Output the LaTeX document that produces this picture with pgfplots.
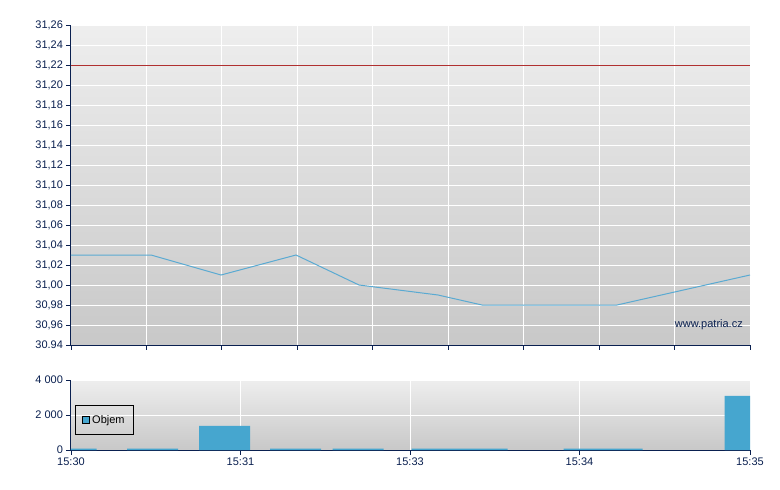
\documentclass[border=0pt]{standalone}
\usepackage{pgfplots}
\pgfplotsset{compat=1.18}
\usepackage{fontspec}
\setmainfont{Liberation Sans}
\definecolor{navy}{HTML}{0A2050}
\definecolor{linec}{HTML}{5AAAD2}
\definecolor{barc}{HTML}{46A6CF}
\definecolor{refred}{HTML}{B03030}
\definecolor{bgtop}{HTML}{EEEEEE}
\definecolor{bgbot}{HTML}{C8C8C8}
\pgfplotsset{
  mystyle/.style={
    scale only axis,
    axis lines*=left,
    axis line style={navy, line width=1pt},
    tick align=outside,
    major tick length=4.5pt,
    tick style={navy, line width=0.9pt},
    grid=major,
    grid style={white, line width=1pt},
    axis background/.style={top color=bgtop, bottom color=bgbot},
    tick label style={font=\fontsize{11}{13}\selectfont, text=navy},
    /pgf/number format/assume math mode=true,
  }
}
\begin{document}
\begin{tikzpicture}[x=1pt,y=1pt]
\path[use as bounding box, fill=white] (0,0) rectangle (780,-490);
\begin{axis}[
  mystyle,
  at={(71pt,-345pt)}, anchor=south west,
  width=679pt, height=320pt,
  xmin=71, xmax=750, ymin=30.94, ymax=31.26,
  xtick={71,146.4,221.9,297.3,372.8,448.2,523.7,599.1,674.6,750},
  xticklabels={},
  ytick={30.94,30.96,30.98,31.00,31.02,31.04,31.06,31.08,31.10,31.12,31.14,31.16,31.18,31.20,31.22,31.24,31.26},
  yticklabels={30.94,{30,96},{30,98},{31,00},{31,02},{31,04},{31,06},{31,08},{31,10},{31,12},{31,14},{31,16},{31,18},{31,20},{31,22},{31,24},{31,26}},
]
\addplot[refred, line width=1pt] coordinates {(71,31.22) (750,31.22)};
\addplot[linec, line width=1pt] coordinates {
  (71,31.03) (151,31.03) (221,31.01) (296,31.03) (359,31.00)
  (438,30.99) (482,30.98) (589,30.98) (617,30.98) (750,31.01)
};
\end{axis}
\node[anchor=base east, font=\fontsize{11}{13}\selectfont, text=navy, inner sep=0pt] at (743,-327) {www.patria.cz};
\begin{axis}[
  mystyle,
  at={(71pt,-450pt)}, anchor=south west,
  width=679pt, height=70pt,
  xmin=71, xmax=750, ymin=0, ymax=4000,
  xtick={71,240.5,410,579.5,750},
  xticklabels={15:30,15:31,15:33,15:34,15:35},
  ytick={0,2000,4000},
  yticklabels={0,{2 000},{4 000}},
  legend style={at={(axis description cs:0.0059,0.643)}, anchor=north west,
    draw=black, line width=0.8pt, fill=none,
    font=\fontsize{11}{13}\selectfont, inner xsep=7pt, inner ysep=8pt},
]
\addplot[ybar, bar width=51, fill=barc, draw=none,
  legend image code/.code={\draw[fill=barc, draw=black, line width=0.8pt] (0pt,-3.5pt) rectangle (7pt,3.5pt);}]
  coordinates {
  (71,80) (152.5,80) (224.5,1380) (295.5,80) (358,80)
  (437,80) (482,80) (589,80) (617,80) (750,3100)
};
\addlegendentry{Objem}
\end{axis}
\end{tikzpicture}
\end{document}
